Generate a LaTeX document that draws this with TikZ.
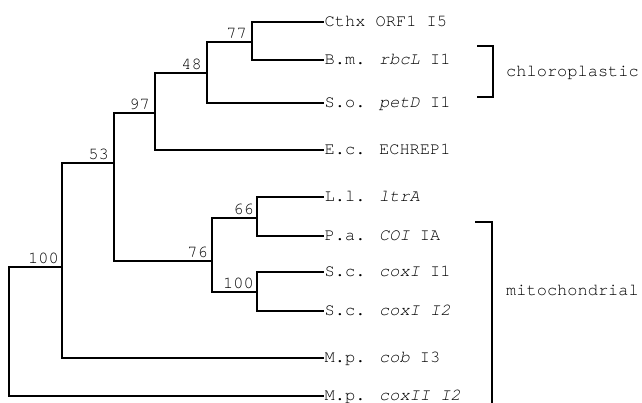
\documentclass[tikz,border=0pt]{standalone}
\usepackage{fontspec}
\setmainfont{TeX Gyre Cursor}
\begin{document}
\begin{tikzpicture}[x=1pt,y=-1pt,
  font=\fontsize{17}{20}\selectfont,
  branch/.style={line width=1.2pt,line cap=rect},
  leaf/.style={anchor=west,inner sep=1.5pt,text height=10pt,text depth=1pt},
  boot/.style={anchor=base east,inner sep=0pt},
  bracketline/.style={line width=1.3pt},
  grouplabel/.style={anchor=west,inner sep=0pt}]
\useasboundingbox (0,0) rectangle (642,402);
% leaves
\node[leaf] (cthx) at (323,22) {Cthx ORF1 I5};
\node[leaf] (bm) at (323,60) {B.m. \textit{rbcL} I1};
\node[leaf] (so) at (323,103) {S.o. \textit{petD} I1};
\node[leaf] (ec) at (323,150) {E.c. ECHREP1};
\node[leaf] (ll) at (323,197) {L.l. \textit{ltrA}};
\node[leaf] (pa) at (323,236) {P.a. \textit{COI} IA};
\node[leaf] (sca) at (323,272) {S.c. \textit{coxI} I1};
\node[leaf] (scb) at (323,311) {S.c. \textit{coxI I2}};
\node[leaf] (mpa) at (323,358) {M.p. \textit{cob} I3};
\node[leaf] (mpb) at (323,396) {M.p. \textit{coxII I2}};
% internal nodes
\coordinate (n77) at (252,42);
\coordinate (n48) at (207,73);
\coordinate (n97) at (155,113);
\coordinate (n53) at (114,163);
\coordinate (n76) at (212,261);
\coordinate (n66) at (257,218);
\coordinate (n100b) at (257,292);
\coordinate (n100a) at (62,267);
\coordinate (root) at (9,330);
% branches
\draw[branch] (n77) |- (cthx.west);
\draw[branch] (n77) |- (bm.west);
\draw[branch] (n48) |- (n77);
\draw[branch] (n48) |- (so.west);
\draw[branch] (n97) |- (n48);
\draw[branch] (n97) |- (ec.west);
\draw[branch] (n53) |- (n97);
\draw[branch] (n53) |- (n76);
\draw[branch] (n76) |- (n66);
\draw[branch] (n76) |- (n100b);
\draw[branch] (n66) |- (ll.west);
\draw[branch] (n66) |- (pa.west);
\draw[branch] (n100b) |- (sca.west);
\draw[branch] (n100b) |- (scb.west);
\draw[branch] (n100a) |- (n53);
\draw[branch] (n100a) |- (mpa.west);
\draw[branch] (root) |- (n100a);
\draw[branch] (root) |- (mpb.west);
% bootstrap values
\node[boot] (b77) at ([shift={(-5,-4)}]n77) {77};
\node[boot] (b48) at ([shift={(-5,-4)}]n48) {48};
\node[boot] (b97) at ([shift={(-5,-4)}]n97) {97};
\node[boot] (b53) at ([shift={(-5,-4)}]n53) {53};
\node[boot] (b76) at ([shift={(-4,-4)}]n76) {76};
\node[boot] (b66) at ([shift={(-3,-4)}]n66) {66};
\node[boot] (b100b) at ([shift={(-3,-4)}]n100b) {100};
\node[boot] (b100a) at ([shift={(-3,-4)}]n100a) {100};
% brackets
\coordinate (c1) at (477,46);
\coordinate (c2) at (493,46);
\coordinate (c3) at (493,97);
\coordinate (c4) at (477,97);
\draw[bracketline] (c1) -- (c2) -- (c3) -- (c4);
\node[grouplabel] (chl) at (506,73) {chloroplastic};
\coordinate (m1) at (475,222);
\coordinate (m2) at (492,222);
\coordinate (m3) at (492,403);
\draw[bracketline] (m1) -- (m2) -- (m3);
\node[grouplabel] (mit) at (506,290) {mitochondrial};
\end{tikzpicture}
\end{document}
